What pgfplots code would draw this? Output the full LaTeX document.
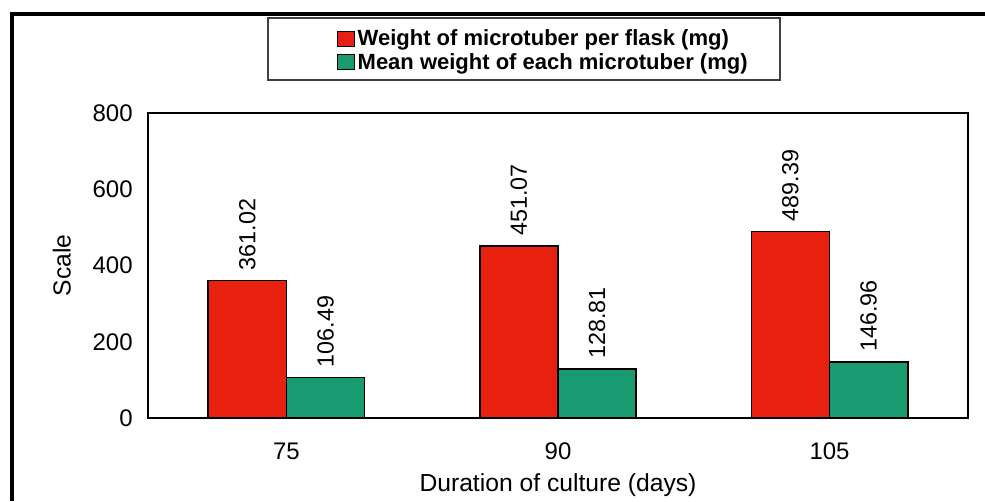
\documentclass[border=0pt]{standalone}
\usepackage{pgfplots}
\pgfplotsset{compat=1.18}
\usepackage{fontspec}
\setmainfont{Liberation Sans}
\definecolor{barred}{RGB}{232,32,16}
\definecolor{barteal}{RGB}{24,155,112}
\begin{document}
\begin{tikzpicture}
\useasboundingbox (0,0) rectangle (738.75pt,375.75pt);
\begin{axis}[
  at={(111pt,62.25pt)}, anchor=south west,
  scale only axis, width=615pt, height=228.75pt,
  xmin=-0.51, xmax=2.51, ymin=0, ymax=800,
  xtick={0,1,2}, xticklabels={75,90,105},
  ytick={0,200,400,600,800},
  major tick length=0pt,
  axis line style={line width=2.2pt},
  /pgf/number format/assume math mode=true,
  tick label style={font=\fontsize{18}{21}\selectfont},
  yticklabel style={xshift=-8pt},
  xticklabel style={yshift=-15pt},
  ylabel={Scale}, xlabel={Duration of culture (days)},
  label style={font=\fontsize{18.5}{22}\selectfont},
  ylabel style={at={(axis description cs:-0.105,0.5)}, anchor=center},
  xlabel style={at={(axis description cs:0.5,-0.22)}, anchor=center},
  ybar, bar width=0.288,
  nodes near coords={\pgfmathprintnumber[fixed,fixed zerofill,precision=2]{\pgfplotspointmeta}},
  every node near coord/.append style={rotate=90, anchor=west, inner sep=7pt, font=\fontsize{17.5}{20}\selectfont},
  legend style={at={(axis description cs:0.2305,1.2049)}, anchor=west, draw=none, fill=none,
    font=\bfseries\fontsize{16.5}{20}\selectfont, inner sep=0pt, row sep=0pt,
    /tikz/every even column/.append style={column sep=0pt}},
  legend cell align=left,
  legend image code/.code={\draw[#1, line width=0.8pt] (0pt,-5.6pt) rectangle (12.5pt,5.6pt);},
  clip=false,
]
\addplot[fill=barred, draw=black, line width=1.2pt, bar shift=-0.144] coordinates {(0,361.02) (1,451.07) (2,489.39)};
\addplot[fill=barteal, draw=black, line width=1.2pt, bar shift=0.144] coordinates {(0,106.49) (1,128.81) (2,146.96)};
\legend{Weight of microtuber per flask (mg), Mean weight of each microtuber (mg)}
\draw[line width=1.1pt, black!75] (axis description cs:0.1463,1.1082) rectangle (axis description cs:0.7707,1.3115);
\end{axis}
\draw[line width=2.6pt] (9pt,0pt) -- (9pt,365.25pt) -- (738.75pt,365.25pt);
\end{tikzpicture}
\end{document}
